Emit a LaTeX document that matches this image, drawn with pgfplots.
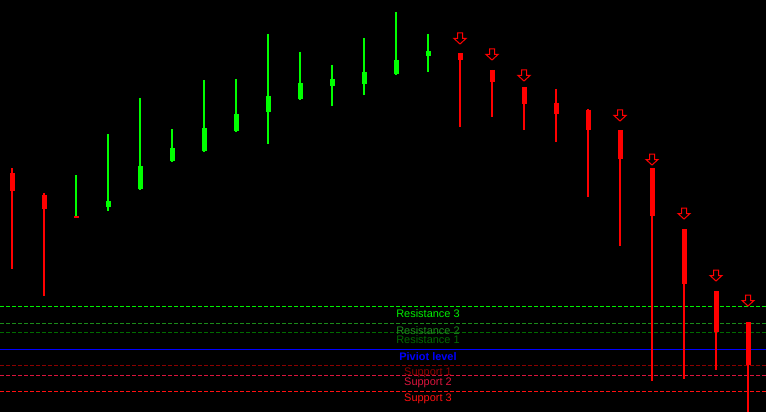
\documentclass[border=0pt]{standalone}
\usepackage{pgfplots}
\pgfplotsset{compat=1.18}
\usepackage{fontspec}
\setmainfont{Liberation Sans}
\definecolor{cgreen}{HTML}{00FF00}
\definecolor{cred}{HTML}{FF0000}
\definecolor{rthree}{HTML}{00EE00}
\definecolor{rtwo}{HTML}{1A8A1A}
\definecolor{rone}{HTML}{006A00}
\definecolor{piv}{HTML}{0000FF}
\definecolor{sone}{HTML}{8B0000}
\definecolor{stwo}{HTML}{DC143C}
\definecolor{sthree}{HTML}{FF1010}
\pgfdeclareplotmark{hollowdown}{%
  \pgfpathmoveto{\pgfqpoint{-2.5bp}{5.5bp}}%
  \pgfpathlineto{\pgfqpoint{2.5bp}{5.5bp}}%
  \pgfpathlineto{\pgfqpoint{2.5bp}{0bp}}%
  \pgfpathlineto{\pgfqpoint{6bp}{0bp}}%
  \pgfpathlineto{\pgfqpoint{0bp}{-5.5bp}}%
  \pgfpathlineto{\pgfqpoint{-6bp}{0bp}}%
  \pgfpathlineto{\pgfqpoint{-2.5bp}{0bp}}%
  \pgfpathclose
  \pgfusepath{stroke}}
\tikzset{lbl/.style={font=\fontsize{11}{13}\selectfont, draw=none, line width=0.25bp}}
\begin{document}
\begin{tikzpicture}
\begin{axis}[
  scale only axis, width=766bp, height=412bp,
  xmin=0, xmax=766, ymin=0, ymax=412, y dir=reverse,
  axis line style={draw=none}, ticks=none,
  axis background/.style={fill=black},
  clip=true, unbounded coords=jump,
]
% level lines
\addplot[rthree, line width=1bp, dash pattern=on 4bp off 2bp] coordinates {(0,306) (766,306)};
\addplot[rtwo, line width=1bp, dash pattern=on 4bp off 2bp] coordinates {(0,323) (766,323)};
\addplot[rone, line width=1bp, dash pattern=on 4bp off 2bp] coordinates {(0,332) (766,332)};
\addplot[piv, line width=1bp] coordinates {(0,349) (766,349)};
\addplot[sone, line width=1bp, dash pattern=on 4bp off 2bp] coordinates {(0,365) (766,365)};
\addplot[stwo, line width=1bp, dash pattern=on 4bp off 2bp] coordinates {(0,375) (766,375)};
\addplot[sthree, line width=1bp, dash pattern=on 4bp off 2bp] coordinates {(0,391) (766,391)};
% green wicks
\addplot[cgreen, line width=2bp] coordinates {
(76,175) (76,217) (76,nan)
(108,134) (108,211) (108,nan)
(140,98) (140,190) (140,nan)
(172,129) (172,162) (172,nan)
(204,80) (204,152) (204,nan)
(236,79) (236,132) (236,nan)
(268,34) (268,144) (268,nan)
(300,52) (300,100) (300,nan)
(332,65) (332,106) (332,nan)
(364,38) (364,95) (364,nan)
(396,12) (396,75) (396,nan)
(428,34) (428,72)
};
% green bodies
\addplot[cgreen, line width=5bp] coordinates {
(108,201) (108,207) (108,nan)
(140,166) (140,189) (140,nan)
(172,148) (172,161) (172,nan)
(204,128) (204,151) (204,nan)
(236,114) (236,131) (236,nan)
(268,96) (268,112) (268,nan)
(300,83) (300,99) (300,nan)
(332,79) (332,86) (332,nan)
(364,72) (364,84) (364,nan)
(396,60) (396,74) (396,nan)
(428,51) (428,56)
};
% red wicks
\addplot[cred, line width=2bp] coordinates {
(12,168) (12,269) (12,nan)
(44,193) (44,296) (44,nan)
(460,53) (460,127) (460,nan)
(492,70) (492,117) (492,nan)
(524,87) (524,130) (524,nan)
(556,89) (556,142) (556,nan)
(588,109) (588,197) (588,nan)
(620,130) (620,246) (620,nan)
(652,168) (652,381) (652,nan)
(684,229) (684,379) (684,nan)
(716,291) (716,370) (716,nan)
(748,322) (748,430)
};
% red bodies
\addplot[cred, line width=5bp] coordinates {
(12,173) (12,191) (12,nan)
(44,195) (44,209) (44,nan)
(76,216) (76,218) (76,nan)
(460,53) (460,60) (460,nan)
(492,70) (492,82) (492,nan)
(524,87) (524,104) (524,nan)
(556,103) (556,114) (556,nan)
(588,110) (588,130) (588,nan)
(620,130) (620,159) (620,nan)
(652,168) (652,216) (652,nan)
(684,229) (684,284) (684,nan)
(716,291) (716,332) (716,nan)
(748,322) (748,365)
};
% sell arrows
\addplot[only marks, mark=hollowdown, mark options={draw=cred, line width=1bp}] coordinates {
(460,38.5) (492,54.5) (524,75.5) (620,115.5) (652,159.5) (684,213.5) (716,275.5) (748,300.5)
};
% labels
\node[lbl, text=rthree] at (428,314) {Resistance 3};
\node[lbl, text=rtwo] at (428,331) {Resistance 2};
\node[lbl, text=rone] at (428,340) {Resistance 1};
\node[lbl, text=piv, font=\fontsize{11}{13}\selectfont\bfseries] at (428,357) {Piviot level};
\node[lbl, text=sone] at (428,373) {Support 1};
\node[lbl, text=stwo] at (428,383) {Support 2};
\node[lbl, text=sthree] at (428,399) {Support 3};
\end{axis}
\end{tikzpicture}
\end{document}
